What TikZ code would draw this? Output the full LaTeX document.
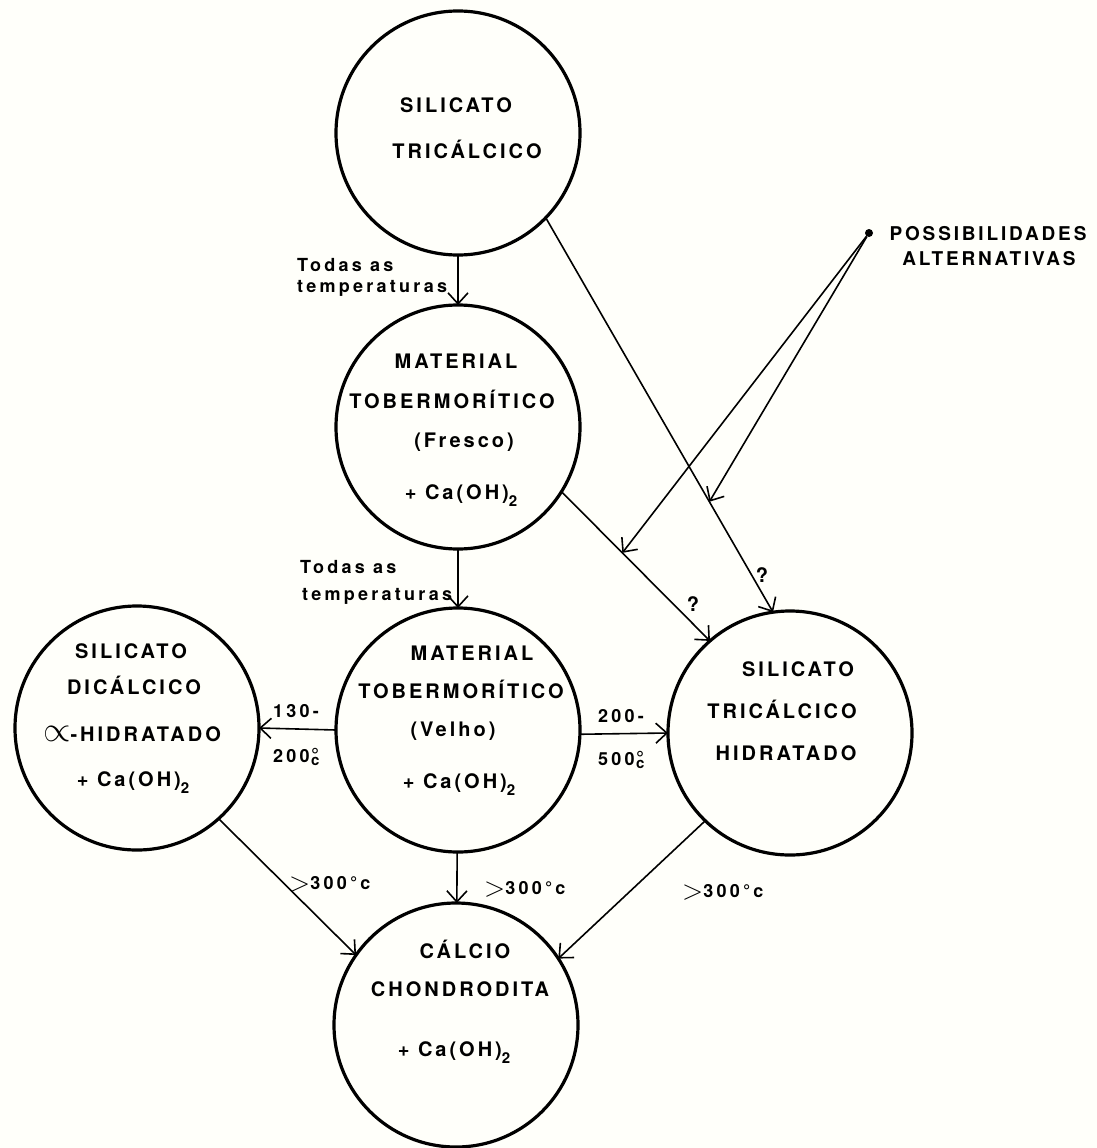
\documentclass[tikz,border=0pt]{standalone}
\usepackage{fontspec}
\setmainfont{TeX Gyre Heros}[LetterSpace=15]
\usetikzlibrary{arrows.meta}
\definecolor{papel}{RGB}{255,255,250}
\newcommand{\dois}{\raisebox{-7pt}{\fontsize{15}{15}\selectfont\bfseries 2}}
\newcommand{\maior}{\raisebox{-2pt}{\scalebox{1.6}{$>$}}}
\newcommand{\grausc}{\makebox[11pt][c]{\fontsize{20}{20}\selectfont °}\kern-11pt\makebox[11pt][c]{\raisebox{-3pt}{\fontsize{15}{15}\selectfont c}}}

\begin{document}
\begin{tikzpicture}[x=1pt,y=-1pt,
  estado/.style={circle,draw,line width=3.2pt,minimum size=244pt,inner sep=0pt,outer sep=0pt},
  seta/.style={line width=1.6pt,-{Straight Barb[length=11pt,width=20pt]}},
  texto/.style={inner sep=0pt,anchor=base,font=\fontsize{20}{24}\selectfont\bfseries},
  legenda/.style={inner sep=0pt,anchor=base west,font=\fontsize{18}{22}\selectfont\bfseries\addfontfeatures{LetterSpace=18}}]
\fill [papel] (0,0) rectangle (1097,1148);
\useasboundingbox (0,0) rectangle (1097,1148);

% os estados
\node [estado] (trical) at (458,133) {};
\node [estado] (fresco) at (458,427) {};
\node [estado] (velho) at (458,730) {};
\node [estado] (dical) at (137,728) {};
\node [estado] (hidrat) at (790,733) {};
\node [estado] (chondro) at (456,1025) {};

\node [texto] (trical-1) at (456,112) {SILICATO};
\node [texto] (trical-2) at (467,158) {TRICÁLCICO};

\node [texto] (fresco-1) at (456,368) {MATERIAL};
\node [texto] (fresco-2) at (452,408) {TOBERMORÍTICO};
\node [texto] (fresco-3) at (464,447) {(Fresco)};
\node [texto] (fresco-4) at (461,499) {+ Ca(OH)\dois};

\node [texto] (velho-1) at (472,660) {MATERIAL};
\node [texto] (velho-2) at (461,698) {TOBERMORÍTICO};
\node [texto] (velho-3) at (453,736) {(Velho)};
\node [texto] (velho-4) at (459,788) {+ Ca(OH)\dois};

\node [texto] (dical-1) at (131,658) {SILICATO};
\node [texto] (dical-2) at (134,694) {DICÁLCICO};
\node [texto] (dical-3) at (132,741) {\scalebox{1.7}{$\propto$}-HIDRATADO};
\node [texto] (dical-4) at (133,786) {+ Ca(OH)\dois};

\node [texto] (hidrat-1) at (798,676) {SILICATO};
\node [texto] (hidrat-2) at (782,718) {TRICÁLCICO};
\node [texto] (hidrat-3) at (786,760) {HIDRATADO};

\node [texto] (chondro-1) at (465,958) {CÁLCIO};
\node [texto] (chondro-2) at (460,996) {CHONDRODITA};
\node [texto] (chondro-3) at (454,1056) {+ Ca(OH)\dois};

% as setas
\draw [seta] (trical) -- (fresco);
\draw [seta] (fresco) -- (velho);
\draw [seta] (velho.west) -- (dical.east);
\draw [seta] (velho.-2) -- (hidrat.west);
\draw [seta] (velho) -- (chondro);
\draw [seta] (dical.-48) -- (chondro.145);
\draw [seta] (hidrat.-134) -- (chondro.33);
\draw [seta] (fresco.-32) -- (hidrat.131) coordinate[pos=0.41] (alt1);
\draw [seta] (trical.-44) -- (hidrat.98) coordinate[pos=0.72] (alt2);

\node [circle,fill,inner sep=0pt,minimum size=8pt] (fonte) at (869,233) {};
\draw [seta] (fonte) -- (alt1);
\draw [seta] (fonte) -- (alt2);
\node [texto,font=\fontsize{19}{23}\selectfont\bfseries] (poss-1) at (988,240) {POSSIBILIDADES};
\node [texto,font=\fontsize{19}{23}\selectfont\bfseries] (poss-2) at (989,265) {ALTERNATIVAS};

\node [texto,anchor=center] (q1) at (762,575) {?};
\node [texto,anchor=center] (q2) at (693,604) {?};

\node [legenda] (temp-1) at (297,271) {Todas as};
\node [legenda] (temp-2) at (297,292) {temperaturas};
\node [legenda] (temp-3) at (300,573) {Todas as};
\node [legenda] (temp-4) at (302,600) {temperaturas};

\node [legenda] (t130) at (273,717) {130-};
\node [legenda] (t200a) at (273,762) {200\grausc};
\node [legenda] (t200b) at (598,722) {200-};
\node [legenda] (t500) at (598,765) {500\grausc};
\node [legenda] (t300a) at (289,889) {\maior300°c};
\node [legenda] (t300b) at (484,894) {\maior300°c};
\node [legenda] (t300c) at (682,897) {\maior300°c};

\end{tikzpicture}
\end{document}
